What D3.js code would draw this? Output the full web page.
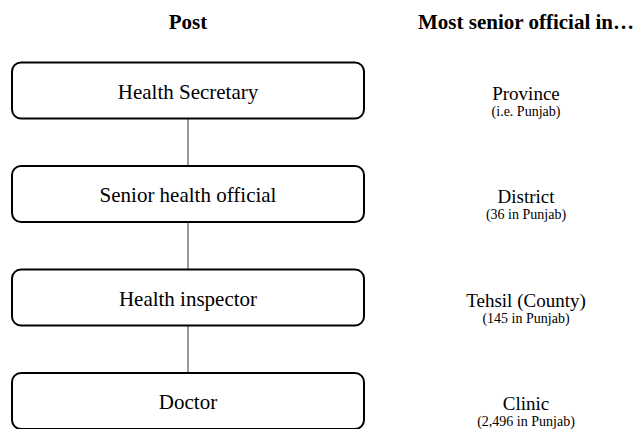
<!DOCTYPE html>
<html>
<head>
<meta charset="utf-8">
<script src="https://cdn.jsdelivr.net/npm/d3@7"></script>
<style>
  body { margin: 0; background: #fff; }
  text { font-family: "Liberation Serif", "Times New Roman", serif; fill: #000; }
</style>
</head>
<body>
<div id="vis-container"></div>
<script>
// chart data
const posts = ['Health Secretary', 'Senior health official', 'Health inspector', 'Doctor'];
const units = ['Province', 'District', 'Tehsil (County)', 'Clinic'];
const unitNotes = ['(i.e. Punjab)', '(36 in Punjab)', '(145 in Punjab)', '(2,496 in Punjab)'];
const headers = ['Post', 'Most senior official in\u2026'];

const width = 636;
const height = 429;

const svg = d3.select("#vis-container")
  .append("svg")
    .attr("width", width)
    .attr("height", height);

// columns: left = boxes, right = admin level
const x = d3.scalePoint()
  .domain(headers)
  .range([188, 526]);

// one row per level
const y = d3.scalePoint()
  .domain(posts)
  .range([90.5, 401]);

const boxW = 352;
const boxH = 56;

// headers
svg.selectAll(".header")
  .data(headers)
  .enter()
  .append("text")
    .attr("class", "header")
    .attr("x", d => x(d))
    .attr("y", 29)
    .attr("text-anchor", "middle")
    .style("font-size", "21px")
    .style("font-weight", "bold")
    .text(d => d);

// connectors between boxes
svg.selectAll(".link")
  .data(posts.slice(1))
  .enter()
  .append("line")
    .attr("class", "link")
    .attr("x1", x(headers[0]))
    .attr("x2", x(headers[0]))
    .attr("y1", (d, i) => y(posts[i]) + boxH / 2)
    .attr("y2", d => y(d) - boxH / 2)
    .attr("stroke", "#333")
    .attr("stroke-width", 1);

// boxes
svg.selectAll(".box")
  .data(posts)
  .enter()
  .append("rect")
    .attr("class", "box")
    .attr("x", x(headers[0]) - boxW / 2)
    .attr("y", d => y(d) - boxH / 2)
    .attr("width", boxW)
    .attr("height", boxH)
    .attr("rx", 9)
    .attr("fill", "#fff")
    .attr("stroke", "#000")
    .attr("stroke-width", 2);

svg.selectAll(".post")
  .data(posts)
  .enter()
  .append("text")
    .attr("class", "post")
    .attr("x", x(headers[0]))
    .attr("y", d => y(d) + 8)
    .attr("text-anchor", "middle")
    .style("font-size", "21px")
    .text(d => d);

// right column
svg.selectAll(".unit")
  .data(units)
  .enter()
  .append("text")
    .attr("class", "unit")
    .attr("x", x(headers[1]))
    .attr("y", (d, i) => y(posts[i]) + 9)
    .attr("text-anchor", "middle")
    .style("font-size", "19px")
    .text(d => d);

svg.selectAll(".note")
  .data(unitNotes)
  .enter()
  .append("text")
    .attr("class", "note")
    .attr("x", x(headers[1]))
    .attr("y", (d, i) => y(posts[i]) + 25)
    .attr("text-anchor", "middle")
    .style("font-size", "14px")
    .text(d => d);
</script>
</body>
</html>
